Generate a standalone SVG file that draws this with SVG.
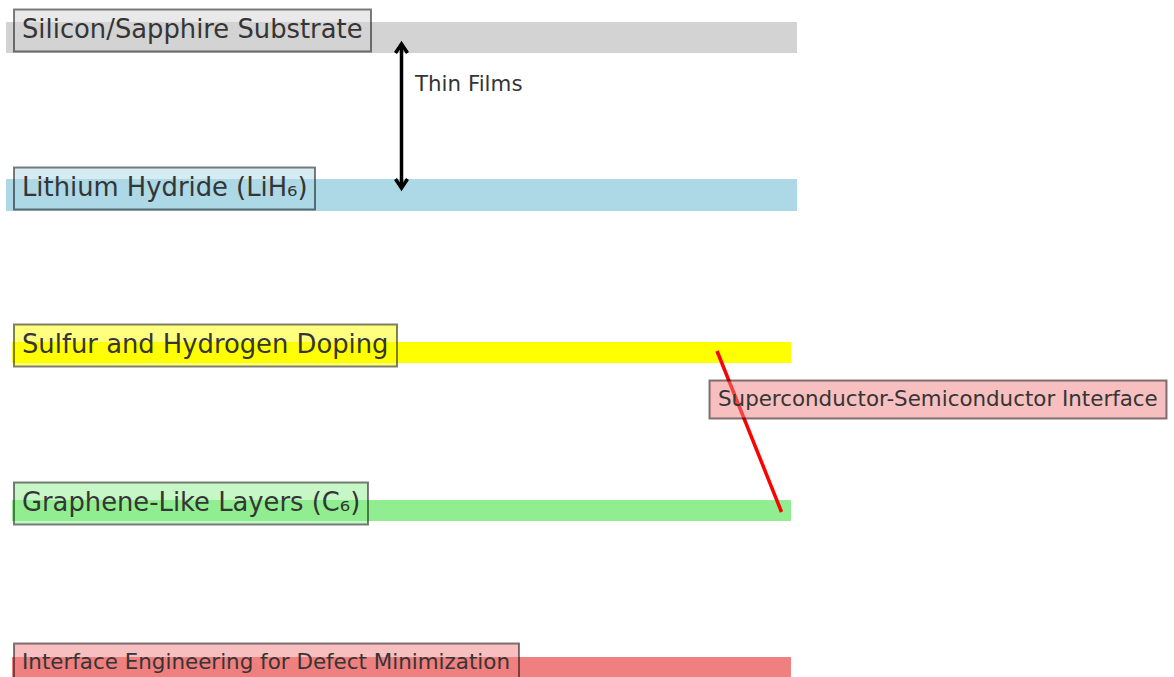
<svg xmlns="http://www.w3.org/2000/svg" width="1174" height="677" viewBox="0 0 1174 677">
  <style>
    .lbl { font-family: "DejaVu Sans", sans-serif; fill: #353535; }
    .big { font-size: 25.8px; }
    .mid { font-size: 21.4px; }
    .box { stroke: #000000; stroke-opacity: 0.5; stroke-width: 2; fill-opacity: 0.5; }
  </style>
  <rect width="1174" height="677" fill="#ffffff"/>

  <!-- layer bands -->
  <g id="bands">
    <rect x="6" y="22" width="791" height="31" fill="#d3d3d3"/>
    <rect x="6" y="179" width="791" height="32" fill="#add8e6"/>
    <rect x="12" y="342" width="779" height="21" fill="#ffff00"/>
    <rect x="12" y="500" width="779" height="21" fill="#90ee90"/>
    <rect x="12" y="657" width="779" height="21" fill="#f08080"/>
  </g>

  <!-- connectors -->
  <g id="connectors">
    <line x1="401.5" y1="45" x2="401.5" y2="187" stroke="#000" stroke-width="3.5"/>
    <path d="M395.5 53 L401.5 44 L407.5 53" fill="none" stroke="#000" stroke-width="3.5" stroke-linejoin="miter"/>
    <path d="M395.5 179 L401.5 188 L407.5 179" fill="none" stroke="#000" stroke-width="3.5" stroke-linejoin="miter"/>
    <line x1="717" y1="351" x2="781.5" y2="512" stroke="#ff0000" stroke-width="3.5"/>
  </g>

  <g id="node-substrate">
    <rect class="box" x="14" y="9.5" width="357" height="42" fill="#d3d3d3"/>
    <text class="lbl big" x="22" y="38">Silicon/Sapphire Substrate</text>
  </g>
  <g id="node-lih6">
    <rect class="box" x="14" y="167.5" width="301" height="42" fill="#add8e6"/>
    <text class="lbl big" x="22" y="196">Lithium Hydride (LiH₆)</text>
  </g>
  <g id="node-doping">
    <rect class="box" x="14" y="324.5" width="383" height="42" fill="#ffff00"/>
    <text class="lbl big" x="22" y="353">Sulfur and Hydrogen Doping</text>
  </g>
  <g id="node-graphene">
    <rect class="box" x="14" y="482.5" width="354" height="42" fill="#90ee90"/>
    <text class="lbl big" x="22" y="511">Graphene-Like Layers (C₆)</text>
  </g>
  <g id="node-interface-eng">
    <rect class="box" x="14" y="643.5" width="505" height="42" fill="#f08080"/>
    <text class="lbl mid" x="22" y="669" textLength="488" lengthAdjust="spacingAndGlyphs">Interface Engineering for Defect Minimization</text>
  </g>
  <g id="node-sc-interface">
    <rect class="box" x="709.5" y="380.5" width="457" height="38" fill="#f08080"/>
    <text class="lbl mid" x="718" y="406">Superconductor-Semiconductor Interface</text>
  </g>
  <g id="label-thin-films">
    <text class="lbl mid" x="415" y="91" font-size="20.9">Thin Films</text>
  </g>
</svg>
